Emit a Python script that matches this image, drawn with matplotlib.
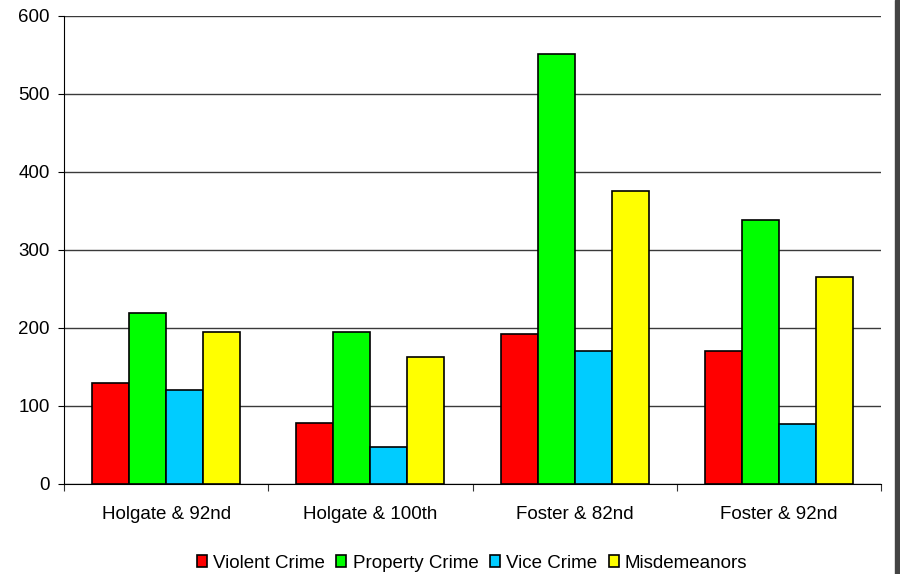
import matplotlib.pyplot as plt
import numpy as np
from matplotlib.patches import Rectangle

plt.rcParams['font.family'] = ['Liberation Sans', 'DejaVu Sans']

locations = ['Holgate & 92nd', 'Holgate & 100th', 'Foster & 82nd', 'Foster & 92nd']
series = ['Violent Crime', 'Property Crime', 'Vice Crime', 'Misdemeanors']
violent = [130, 78, 192, 170]
property_crime = [219, 195, 551, 338]
vice = [120, 47, 170, 77]
misdemeanors = [195, 163, 376, 266]
colors = ['#ff0000', '#00ff00', '#00ccff', '#ffff00']

values = [violent, property_crime, vice, misdemeanors]

fig = plt.figure(figsize=(9, 5.74), dpi=100)
ax = fig.add_axes([64/900, 1-484/574, 817/900, 468/574])

x = np.arange(len(locations))
w = 0.181
for i, (name, vals) in enumerate(zip(series, values)):
    ax.bar(x + (i - 1.5)*w, vals, w, color=colors[i], edgecolor='black',
           linewidth=1.2, label=name, zorder=3)

ax.set_xlim(-0.5, 3.5)
ax.set_ylim(0, 600)
ax.set_yticks(range(0, 601, 100))
ax.yaxis.grid(True, color='#3a3a3a', linewidth=1.0, zorder=0)
ax.set_axisbelow(True)

# category labels between boundary ticks
ax.set_xticks(np.arange(-0.5, 4.0, 1.0))
ax.set_xticklabels([])
ax.set_xticks(x, minor=True)
ax.set_xticklabels(locations, minor=True)
ax.tick_params(axis='x', which='minor', length=0, pad=16)
ax.tick_params(axis='x', which='major', length=5, direction='out', color='#333333')
ax.tick_params(axis='y', length=4.3, direction='out', pad=6)
ax.tick_params(which='both', labelsize=13.5)

for s in ['top', 'right']:
    ax.spines[s].set_visible(False)
ax.spines['left'].set_color('black')
ax.spines['bottom'].set_color('black')

ax.legend(loc='center', bbox_to_anchor=(472/900, 1-563/574), bbox_transform=fig.transFigure,
          ncol=4, frameon=False, fontsize=13.5, handlelength=0.55, handleheight=0.55,
          handletextpad=0.33, columnspacing=0.6, borderpad=0)

# dark shadow on the right edge
fig.patches.append(Rectangle((895/900, 0), 5/900, 1, transform=fig.transFigure,
                             color='#444444', zorder=0))

plt.savefig('out.png')
